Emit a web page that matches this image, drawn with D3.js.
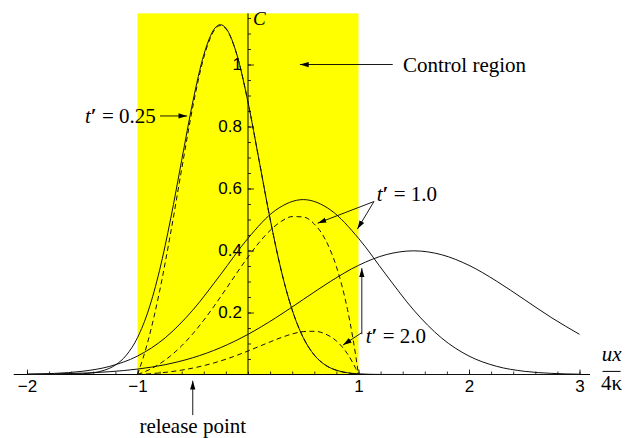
<!DOCTYPE html>
<html><head><meta charset="utf-8">
<script src="https://cdn.jsdelivr.net/npm/d3@7"></script>
<style>body{margin:0;background:#fff}svg{display:block}
.serif{font-family:"Liberation Serif","DejaVu Serif","Noto Serif","Times New Roman",serif}
.sans{font-family:"Liberation Sans",Arial,"DejaVu Sans",sans-serif}
</style>
</head><body><svg id="c" width="632" height="438"></svg>
<script>
// ---- data ----
const xTicks = [-2, -1, 1, 2, 3];
const yTicks = [0.2, 0.4, 0.6, 0.8, 1];
const controlRegion = [-1, 1];
const releasePoint = -0.5;

// solid curves (no control)
const xS025 = [-2,-1.5,-1.4,-1.3,-1.2,-1.1,-1,-0.9,-0.8,-0.7,-0.6,-0.5,-0.4,-0.3,-0.25,-0.2,-0.1,0,0.1,0.2,0.3,0.4,0.5,0.6,0.7,0.8,0.9,1,1.2,1.5,3];
const cS025 = [0,0.0022,0.0057,0.0137,0.0305,0.0627,0.1189,0.2082,0.3365,0.5020,0.6913,0.8788,1.0312,1.1172,1.1284,1.1172,1.0312,0.8788,0.6913,0.5020,0.3365,0.2082,0.1189,0.0627,0.0305,0.0137,0.0057,0.0022,0.0002,0,0];
const xS = [-2,-1.75,-1.5,-1.25,-1,-0.75,-0.5,-0.25,0,0.25,0.5,0.75,1,1.25,1.5,1.75,2,2.25,2.5,2.75,3];
const cS1 = [0.0011,0.0036,0.0103,0.0264,0.0595,0.1182,0.2076,0.3215,0.4394,0.5300,0.5642,0.5300,0.4394,0.3215,0.2076,0.1182,0.0595,0.0264,0.0103,0.0036,0.0011];
const cS2 = [0.0009,0.0020,0.0044,0.0091,0.0175,0.0317,0.0540,0.0863,0.1295,0.1826,0.2420,0.3011,0.3521,0.3866,0.3989,0.3866,0.3521,0.3011,0.2420,0.1826,0.1295];

// dashed curves (with control region)
const xD025 = [-1,-0.95,-0.9,-0.8,-0.7,-0.6,-0.5,-0.4,-0.3,-0.25,-0.2,-0.1,0,0.1,0.2,0.3,0.4,0.5,0.6,0.7,0.8,0.9,1];
const cD025 = [0,0.0525,0.1146,0.2686,0.4564,0.6631,0.8627,1.0228,1.1130,1.1256,1.1153,1.0305,0.8785,0.6913,0.5020,0.3365,0.2082,0.1189,0.0627,0.0305,0.0136,0.0052,0];
const xD = [-1,-0.9,-0.8,-0.7,-0.6,-0.5,-0.4,-0.3,-0.2,-0.1,0,0.1,0.2,0.3,0.4,0.5,0.6,0.7,0.8,0.9,0.95,0.975,1];
const cD1 = [0,0.0144,0.0343,0.0603,0.0926,0.1312,0.1754,0.2240,0.2756,0.3280,0.3789,0.4254,0.4646,0.4937,0.5094,0.5082,0.4855,0.4353,0.3481,0.2101,0.1156,0.0607,0];
const cD2 = [0,0.0021,0.0051,0.0090,0.0142,0.0207,0.0287,0.0382,0.0493,0.0619,0.0758,0.0904,0.1051,0.1191,0.1308,0.1384,0.1395,0.1308,0.1082,0.0668,0.0369,0.0195,0];

// annotations (data coordinates)
const tLabels = [
  {val: "0.25", x: -1.475, y: 0.811},
  {val: "1.0",  x: 1.165,  y: 0.56},
  {val: "2.0",  x: 1.065,  y: 0.102}
];
const arrows = [
  {x1: -0.796, y1: 0.834, x2: -0.55, y2: 0.834},
  {x1: 1.14, y1: 0.558, x2: 0.63, y2: 0.488},
  {x1: 1.14, y1: 0.558, x2: 0.99, y2: 0.469},
  {x1: 1.03, y1: 0.13, x2: 1.03, y2: 0.343},
  {x1: 1.03, y1: 0.135, x2: 0.86, y2: 0.095},
  {x1: 1.31, y1: 1.0, x2: 0.47, y2: 1.0},
  {x1: releasePoint, y1: -0.131, x2: releasePoint, y2: -0.02}
];

// ---- drawing ----
const svg = d3.select("#c");
const x = d3.scaleLinear().domain([-2, 3]).range([27, 579.5]);
const y = d3.scaleLinear().domain([0, 1]).range([374.5, 64.5]);
const xMin = -2.12, xMax = 3.095, yMax = 1.165;

const defs = svg.append("defs");
defs.append("marker").attr("id", "ah").attr("viewBox", "0 -4 10 8")
  .attr("refX", 10).attr("refY", 0).attr("markerWidth", 9).attr("markerHeight", 7)
  .attr("markerUnits", "userSpaceOnUse").attr("orient", "auto")
  .append("path").attr("d", "M0,-3L10,0L0,3Z").attr("fill", "#000");

// control region
svg.append("rect")
  .attr("x", x(controlRegion[0])).attr("y", y(yMax))
  .attr("width", x(controlRegion[1]) - x(controlRegion[0]))
  .attr("height", y(0) - y(yMax))
  .attr("fill", "#ffff00");

// axes
const gx = svg.append("g").attr("transform", `translate(0,${y(0)})`)
  .call(d3.axisBottom(x).tickValues(xTicks).tickSize(-5).tickPadding(5).tickFormat(d3.format("d")));
const gxm = svg.append("g").attr("transform", `translate(0,${y(0)})`)
  .call(d3.axisBottom(x).ticks(25).tickSize(-3).tickFormat(""));
const gy = svg.append("g").attr("transform", `translate(${x(0)},0)`)
  .call(d3.axisLeft(y).tickValues(yTicks).tickSize(-6).tickPadding(6)
    .tickFormat(d => d === 1 ? "1" : d3.format(".1f")(d)));
const gym = svg.append("g").attr("transform", `translate(${x(0)},0)`)
  .call(d3.axisLeft(y).tickValues(d3.range(1, 24).map(i => i * 0.05)).tickSize(-3).tickFormat(""));
[gx, gxm, gy, gym].forEach(g => {
  g.attr("font-family", null).attr("font-size", null);
  g.select(".domain").remove();
  g.selectAll("line").attr("stroke", "#000").attr("stroke-width", 0.8);
  g.selectAll("text").attr("class", "sans").style("font-size", "17px").attr("fill", "#000");
});
svg.append("line").attr("x1", x(xMin)).attr("x2", x(xMax)).attr("y1", y(0)).attr("y2", y(0))
  .attr("stroke", "#000").attr("stroke-width", 1);
svg.append("line").attr("x1", x(0)).attr("x2", x(0)).attr("y1", y(0)).attr("y2", y(yMax))
  .attr("stroke", "#000").attr("stroke-width", 1);

// curves
const line = d3.line().x(d => x(d[0])).y(d => y(d[1])).curve(d3.curveMonotoneX);
const series = [
  {xs: xS025, cs: cS025, dash: null},
  {xs: xS, cs: cS1, dash: null},
  {xs: xS, cs: cS2, dash: null},
  {xs: xD025, cs: cD025, dash: "5,3.5"},
  {xs: xD, cs: cD1, dash: "5,3.5"},
  {xs: xD, cs: cD2, dash: "5,3.5"}
];
series.forEach(s => {
  svg.append("path").datum(s.xs.map((v, i) => [v, s.cs[i]]))
    .attr("d", line).attr("fill", "none").attr("stroke", "#111")
    .attr("stroke-width", 1).attr("stroke-dasharray", s.dash);
});

// arrows
arrows.forEach(a => {
  svg.append("line").attr("x1", x(a.x1)).attr("y1", y(a.y1)).attr("x2", x(a.x2)).attr("y2", y(a.y2))
    .attr("stroke", "#000").attr("stroke-width", 0.9).attr("marker-end", "url(#ah)");
});

// text
tLabels.forEach(l => {
  const t = svg.append("text").attr("class", "serif").attr("x", x(l.x)).attr("y", y(l.y))
    .style("font-size", "21px").attr("fill", "#000");
  t.append("tspan").style("font-style", "italic").text("t");
  t.append("tspan").style("font-weight", "bold").text("′");
  t.append("tspan").text(" = " + l.val);
});
svg.append("text").attr("class", "serif").attr("x", x(1.403)).attr("y", y(0.976))
  .style("font-size", "21px").text("Control region");
svg.append("text").attr("class", "serif").attr("x", x(releasePoint)).attr("y", y(-0.189))
  .attr("text-anchor", "middle").style("font-size", "21px").text("release point");
svg.append("text").attr("class", "serif").attr("x", x(0.045)).attr("y", y(1.127))
  .style("font-style", "italic").style("font-size", "19px").text("C");
// x-axis label: ux / 4κ
const fx = x(3.29);
svg.append("text").attr("class", "serif").attr("x", fx).attr("y", y(0.045)).attr("text-anchor", "middle")
  .style("font-style", "italic").style("font-size", "21px").text("ux");
svg.append("line").attr("x1", fx - 9).attr("x2", fx + 9).attr("y1", y(0.01)).attr("y2", y(0.01))
  .attr("stroke", "#000").attr("stroke-width", 1);
svg.append("text").attr("class", "serif").attr("x", fx).attr("y", y(-0.05)).attr("text-anchor", "middle")
  .style("font-size", "21px").text("4κ");
</script></body></html>
